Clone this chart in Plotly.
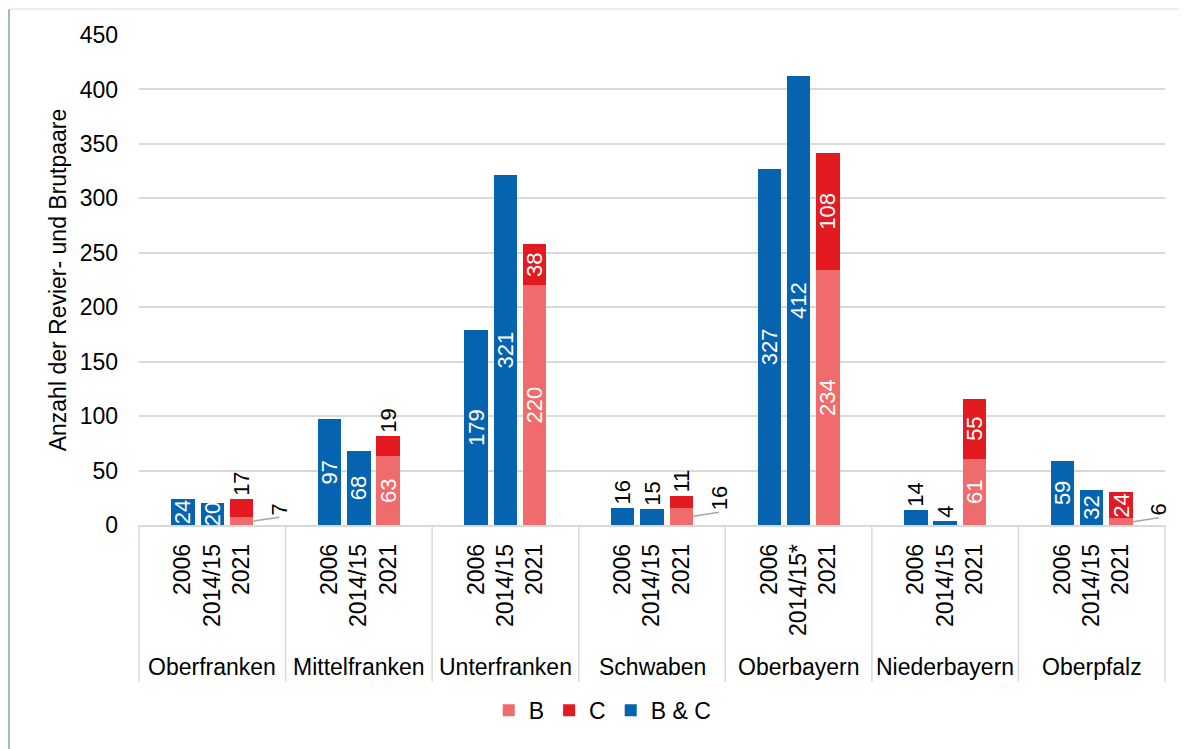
import plotly.graph_objects as go

# Regierungsbezirke und Erfassungsjahre
regionen = ["Oberfranken", "Mittelfranken", "Unterfranken", "Schwaben",
            "Oberbayern", "Niederbayern", "Oberpfalz"]
jahre = ["2006", "2014/15", "2021"]
jahre_oberbayern = ["2006", "2014/15*", "2021"]

# Werte B & C (2006 und 2014/15)
bc_2006 = [24, 97, 179, 16, 327, 14, 59]
bc_2014 = [20, 68, 321, 15, 412, 4, 32]
# Werte 2021 getrennt nach B und C
b_2021 = [7, 63, 220, 16, 234, 61, 6]
c_2021 = [17, 19, 38, 11, 108, 55, 24]

BLAU = "#0563b0"
ROT = "#e31a1f"
LACHS = "#f06b6b"
FONT = "Liberation Sans, Arial, sans-serif"
SCHRIFT = 23
LABEL = 22

# Positionen: 5 Einheiten pro Gruppe, Balken in der Mitte
n = len(regionen)
x_2006 = [5 * i + 1 for i in range(n)]
x_2014 = [5 * i + 2 for i in range(n)]
x_2021 = [5 * i + 3 for i in range(n)]
x_min, x_max = -0.5, 5 * n - 0.5

innen = dict(color="white", size=LABEL, family=FONT)
aussen = dict(color="black", size=LABEL, family=FONT)


# Beschriftung innen/außen
def pos_bc(values):
    return ["inside" if v >= 20 else "outside" for v in values]


fig = go.Figure()

fig.add_trace(go.Bar(
    x=x_2021, y=b_2021, name="B", marker_color=LACHS,
    text=[str(v) if v > 20 else "" for v in b_2021],
    textposition="inside", insidetextanchor="middle", textangle=-90,
    insidetextfont=innen, constraintext="none", width=0.8, marker_line_width=0,
))
fig.add_trace(go.Bar(
    x=x_2021, y=c_2021, name="C", marker_color=ROT,
    text=[str(v) for v in c_2021],
    textposition=["inside" if v >= 24 else "outside" for v in c_2021],
    insidetextanchor="middle", textangle=-90,
    insidetextfont=innen, outsidetextfont=aussen,
    constraintext="none", cliponaxis=False, width=0.8, marker_line_width=0,
))
fig.add_trace(go.Bar(
    x=x_2006, y=bc_2006, name="B & C", marker_color=BLAU,
    text=[str(v) for v in bc_2006], textposition=pos_bc(bc_2006),
    insidetextanchor="middle", textangle=-90,
    insidetextfont=innen, outsidetextfont=aussen,
    constraintext="none", cliponaxis=False, width=0.8, marker_line_width=0,
))
fig.add_trace(go.Bar(
    x=x_2014, y=bc_2014, name="B & C", marker_color=BLAU, showlegend=False,
    text=[str(v) for v in bc_2014], textposition=pos_bc(bc_2014),
    insidetextanchor="middle", textangle=-90,
    insidetextfont=innen, outsidetextfont=aussen,
    constraintext="none", cliponaxis=False, width=0.8, marker_line_width=0,
))

# kleine B-Werte mit Führungslinie
for i, v in enumerate(b_2021):
    if v <= 20:
        fig.add_annotation(
            x=x_2021[i] + 0.4, y=v / 2, xref="x", yref="y",
            text=str(v), textangle=-90, showarrow=True, arrowhead=0,
            arrowcolor="#a6a6a6", arrowwidth=1.5, ax=26, ay=-4,
            xanchor="left", font=aussen,
        )

# Regionsnamen und Trennlinien
breite = x_max - x_min
for i, reg in enumerate(regionen):
    fig.add_annotation(
        x=x_2014[i], y=-0.29, xref="x", yref="paper", text=reg,
        yanchor="middle", showarrow=False,
        font=dict(size=SCHRIFT, color="black", family=FONT),
    )
for i in range(n + 1):
    px_ = (5 * i - 0.5 - x_min) / breite
    fig.add_shape(type="line", xref="paper", yref="paper",
                  x0=px_, x1=px_, y0=0, y1=-0.32,
                  line=dict(color="#d9d9d9", width=1.5))

# Rahmen links/oben
fig.add_shape(type="line", xref="paper", yref="paper", x0=-0.1267, x1=-0.1267,
              y0=1.053, y1=-0.52, line=dict(color="#a3b9c9", width=2))
fig.add_shape(type="line", xref="paper", yref="paper", x0=-0.1267, x1=1.03,
              y0=1.053, y1=1.053, line=dict(color="#e3e8ee", width=1.5))

ticktexte = []
tickpos = []
for i in range(n):
    js = jahre_oberbayern if regionen[i] == "Oberbayern" else jahre
    tickpos += [x_2006[i], x_2014[i], x_2021[i]]
    ticktexte += js

fig.update_layout(
    width=1179, height=741,
    barmode="stack",
    plot_bgcolor="white", paper_bgcolor="white",
    font=dict(family=FONT, size=SCHRIFT, color="black"),
    margin=dict(l=131, r=22, t=27, b=224),
    showlegend=True,
    legend=dict(orientation="h", x=0.452, y=-0.378, xanchor="center",
                yanchor="middle", font=dict(size=SCHRIFT), traceorder="normal",
                itemwidth=30, tracegroupgap=0),
    xaxis=dict(
        range=[x_min, x_max], tickmode="array", tickvals=tickpos,
        ticktext=ticktexte, tickangle=-90, ticks="", showgrid=False,
        zeroline=False, showline=True, linecolor="#d9d9d9", linewidth=1.5,
        ticklabelstandoff=8, tickfont=dict(size=SCHRIFT),
    ),
    yaxis=dict(
        range=[0, 450], dtick=50, showgrid=True, gridcolor="#d9d9d9",
        gridwidth=1.5, zeroline=False, ticks="", ticklabelstandoff=20,
        title=dict(text="Anzahl der Revier- und Brutpaare", standoff=6,
                   font=dict(size=SCHRIFT)),
        tickfont=dict(size=SCHRIFT),
    ),
)

fig.write_html("out.html")
